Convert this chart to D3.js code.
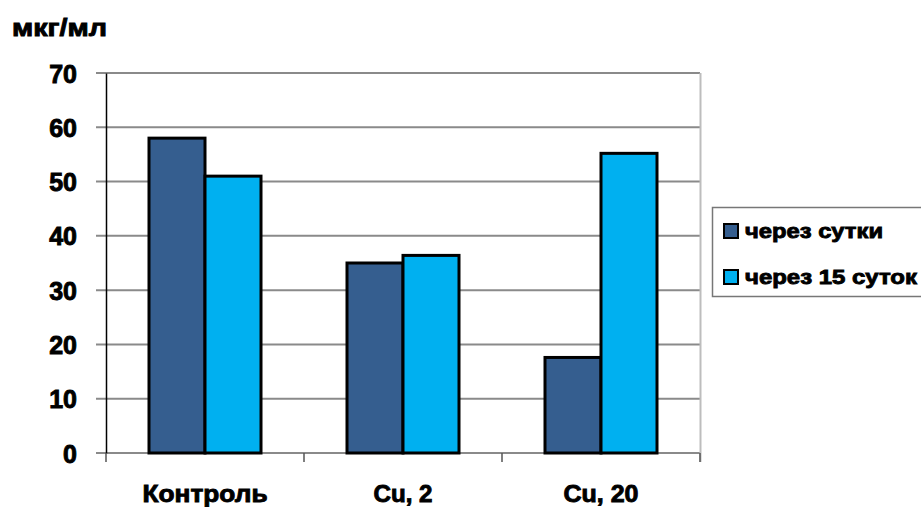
<!DOCTYPE html>
<html>
<head>
<meta charset="utf-8">
<script src="https://cdn.jsdelivr.net/npm/d3@7"></script>
<style>
  html, body { margin: 0; padding: 0; background: #fff; }
  svg { display: block; }
  text { font-family: "Liberation Sans", Arial, sans-serif; font-weight: bold; fill: #000; stroke: #000; stroke-width: 0.9px; }
</style>
</head>
<body>
<svg id="chart" width="921" height="507"></svg>
<script>
// Концентрация, мкг/мл
const categories = ["Контроль", "Cu, 2", "Cu, 20"];
const seriesNames = ["через сутки", "через 15 суток"];
const afterOneDay = [58, 35, 17.6];
const after15Days = [51, 36.4, 55.2];
const yTicks = [0, 10, 20, 30, 40, 50, 60, 70];
const unitLabel = "мкг/мл";
const colors = ["#355e8f", "#00b0f0"];

const svg = d3.select("#chart");
const plot = { left: 106, right: 700, top: 73, bottom: 453 };

const x = d3.scaleBand().domain(categories).range([plot.left, plot.right]).padding(0);
const y = d3.scaleLinear().domain([0, 70]).range([plot.bottom, plot.top]);

const barW = 56;
const series = [afterOneDay, after15Days];

// grid lines
svg.append("g").selectAll("line").data(yTicks).join("line")
  .attr("x1", plot.left - 10).attr("x2", plot.right)
  .attr("y1", d => y(d)).attr("y2", d => y(d))
  .attr("stroke", "#8a8a8a").attr("stroke-width", 2);

// right border of plot area
svg.append("line")
  .attr("x1", plot.right + 0.5).attr("x2", plot.right + 0.5)
  .attr("y1", plot.top).attr("y2", plot.bottom + 9)
  .attr("stroke", "#bdbdbd").attr("stroke-width", 2);

// y axis
const yAxis = d3.axisLeft(y).tickValues(yTicks).tickSize(0).tickPadding(29).tickFormat(d3.format("d"));
const yg = svg.append("g").attr("transform", `translate(${plot.left},0)`).call(yAxis);
yg.select(".domain").attr("stroke", "#000").attr("stroke-width", 1.5);
yg.selectAll("text").style("font-size", "25px").attr("dy", "0.36em");

// x axis ticks at category boundaries
const boundaries = categories.map(c => x(c)).concat([plot.right]);
svg.append("g").selectAll("line").data(boundaries).join("line")
  .attr("x1", d => d).attr("x2", d => d)
  .attr("y1", plot.bottom).attr("y2", plot.bottom + 9)
  .attr("stroke", "#555").attr("stroke-width", 1.5);

const catWidths = [125, 59, 75];
const xAxis = d3.axisBottom(x).tickSize(0).tickPadding(32);
const xg = svg.append("g").attr("transform", `translate(0,${plot.bottom})`).call(xAxis);
xg.select(".domain").remove();
xg.selectAll("text").style("font-size", "24px")
  .attr("textLength", (d, i) => catWidths[i]).attr("lengthAdjust", "spacingAndGlyphs");

// bars
series.forEach((vals, si) => {
  svg.append("g").selectAll("rect").data(vals).join("rect")
    .attr("x", (d, i) => x(categories[i]) + x.bandwidth() / 2 - barW + si * barW)
    .attr("y", d => y(d))
    .attr("width", barW)
    .attr("height", d => y(0) - y(d))
    .attr("fill", colors[si])
    .attr("stroke", "#000").attr("stroke-width", 3);
});

// unit label
svg.append("text").attr("x", 12).attr("y", 36).style("font-size", "24px")
  .attr("textLength", 95).attr("lengthAdjust", "spacingAndGlyphs").text(unitLabel);

// legend
const legendWidths = [138, 172];
const lg = svg.append("g");
lg.append("rect").attr("x", 712.5).attr("y", 207.5).attr("width", 214).attr("height", 89)
  .attr("fill", "#fff").attr("stroke", "#777").attr("stroke-width", 1.5);
seriesNames.forEach((name, i) => {
  const cy = 231 + i * 46;
  lg.append("rect").attr("x", 724).attr("y", cy - 7).attr("width", 14).attr("height", 14)
    .attr("fill", colors[i]).attr("stroke", "#000").attr("stroke-width", 2);
  lg.append("text").attr("x", 745).attr("y", cy).attr("dy", "0.35em")
    .style("font-size", "21px")
    .attr("textLength", legendWidths[i]).attr("lengthAdjust", "spacingAndGlyphs").text(name);
});
</script>
</body>
</html>
